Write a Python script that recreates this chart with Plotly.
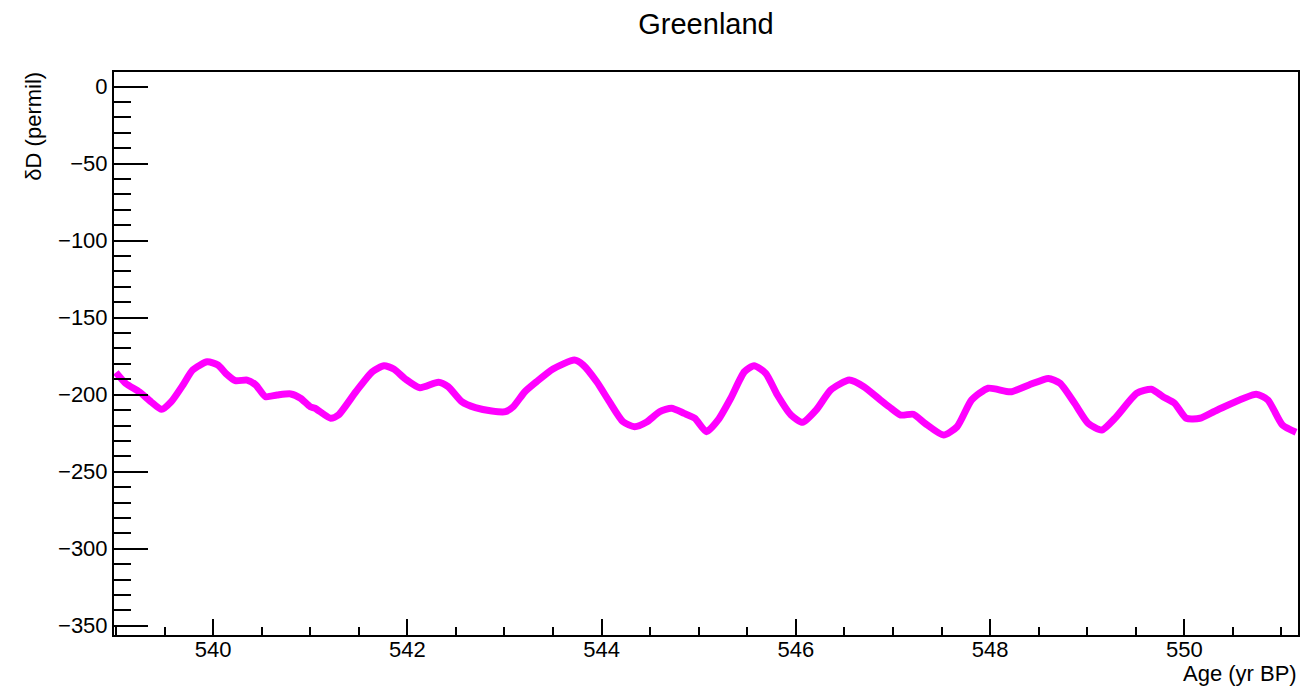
import plotly.graph_objects as go

age = [539.00, 539.10, 539.24, 539.36, 539.47, 539.57, 539.69, 539.79, 539.94, 540.05,
       540.13, 540.23, 540.35, 540.44, 540.54, 540.66, 540.80, 540.90, 541.00, 541.05,
       541.21, 541.29, 541.47, 541.64, 541.76, 541.86, 541.98, 542.13, 542.32, 542.42,
       542.56, 542.70, 542.87, 543.01, 543.09, 543.21, 543.33, 543.50, 543.72, 543.81,
       543.95, 544.08, 544.22, 544.34, 544.46, 544.60, 544.72, 544.85, 544.96, 545.08,
       545.20, 545.33, 545.47, 545.57, 545.69, 545.81, 545.95, 546.07, 546.21, 546.36,
       546.55, 546.70, 546.87, 546.96, 547.08, 547.21, 547.33, 547.52, 547.66, 547.81,
       547.98, 548.21, 548.40, 548.60, 548.72, 548.87, 549.01, 549.15, 549.30, 549.51,
       549.66, 549.78, 549.90, 550.02, 550.16, 550.34, 550.74, 550.86, 551.01, 551.15]
dD = [-185.5, -192.6, -198.1, -204.5, -209.5, -204.5, -193.7, -184.0, -178.6, -180.7,
      -186.1, -190.9, -190.5, -193.7, -201.3, -200.2, -199.5, -202.3, -207.8, -208.8,
      -215.3, -213.2, -198.1, -185.1, -181.2, -183.3, -189.8, -195.5, -191.9, -194.8,
      -204.5, -208.4, -210.6, -211.0, -207.8, -198.1, -191.6, -183.3, -177.5, -180.7,
      -191.6, -204.5, -217.5, -220.8, -217.9, -211.0, -208.8, -212.1, -215.3, -224.0,
      -216.4, -202.3, -185.1, -181.2, -186.1, -200.2, -213.2, -217.9, -209.9, -196.9,
      -190.5, -194.8, -203.4, -207.8, -213.2, -212.7, -218.6, -226.2, -220.8, -203.4,
      -195.8, -198.1, -193.7, -189.4, -192.6, -205.6, -218.6, -222.9, -214.3, -199.1,
      -196.5, -201.3, -205.6, -215.3, -215.3, -209.9, -199.7, -203.4, -219.7, -224.4]

title_text = "Greenland"
x_title = "Age (yr BP)"
y_title = "δD (permil)"

FONT = "Liberation Sans, Arial, Helvetica, sans-serif"

fig = go.Figure()
fig.add_trace(go.Scatter(x=age, y=dD, mode="lines",
                         line=dict(color="#ff00ff", width=7, shape="spline", smoothing=0.6),
                         hoverinfo="x+y", showlegend=False))

W, H = 1303, 687
L, R, T, B = 114, 3, 72, 52

fig.update_layout(
    width=W, height=H,
    margin=dict(l=L, r=R, t=T, b=B),
    paper_bgcolor="white", plot_bgcolor="white",
    font=dict(family=FONT, color="black", size=22),
    title=dict(text=title_text, x=0.5, xanchor="center", xref="paper",
               y=1 - 24 / H, yanchor="middle", yref="container",
               font=dict(size=29, family=FONT, color="black")),
    xaxis=dict(range=[538.98, 551.17], tick0=540, dtick=2, ticks="inside",
               ticklen=16, tickwidth=2, tickcolor="black",
               showline=True, linecolor="black", linewidth=2, mirror=True,
               showgrid=False, zeroline=False, ticklabelstandoff=-6,
               tickfont=dict(size=22, family=FONT),
               minor=dict(dtick=0.5, ticks="inside", ticklen=8, tickwidth=2,
                          tickcolor="black", showgrid=False)),
    yaxis=dict(range=[-356, 9.5], tick0=0, dtick=50, ticks="inside",
               ticklen=34, tickwidth=2, tickcolor="black",
               showline=True, linecolor="black", linewidth=2, mirror=True,
               showgrid=False, zeroline=False,
               tickfont=dict(size=22, family=FONT),
               minor=dict(dtick=10, ticks="inside", ticklen=17, tickwidth=2,
                          tickcolor="black", showgrid=False)),
    annotations=[
        dict(text=x_title, xref="paper", yref="paper", x=1, y=0,
             xanchor="right", yanchor="top", yshift=-25, showarrow=False,
             borderpad=0, font=dict(size=22, family=FONT)),
        dict(text=y_title, xref="paper", yref="paper", x=(33 - L) / (W - L - R), y=1,
             xanchor="center", yanchor="top", textangle=-90, showarrow=False,
             yshift=2, font=dict(size=22, family=FONT)),
    ],
)

fig.write_html("out.html")
